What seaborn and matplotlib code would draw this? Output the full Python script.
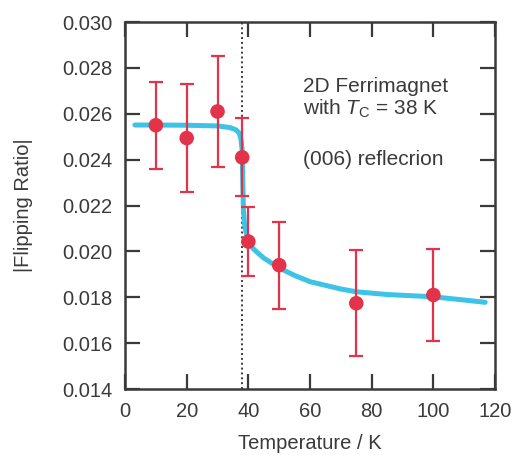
import numpy as np
import pandas as pd
import seaborn as sns
import matplotlib
matplotlib.use('Agg')
import matplotlib.pyplot as plt

temp = [10, 20, 30, 38, 40, 50, 75, 100]
ratio = [0.02550, 0.02494, 0.02610, 0.02410, 0.02043, 0.01940, 0.01774, 0.01810]
err = [0.00190, 0.00235, 0.00240, 0.00170, 0.00150, 0.00190, 0.00230, 0.00200]

# fitted curve
curve_t = [3.2, 10, 20, 30, 34, 36, 37, 37.6, 38.0, 38.2, 38.4, 38.7, 39.2, 40.5,
           42, 45, 50, 55, 60, 70, 75, 85, 100, 110, 116.8]
curve_r = [0.02551, 0.02551, 0.02550, 0.02547, 0.02540, 0.02530, 0.02516, 0.02490,
           0.02440, 0.02300, 0.02180, 0.02124, 0.02085, 0.02028,
           0.02006, 0.01971, 0.01928, 0.01895, 0.01868, 0.01836, 0.01824, 0.01812,
           0.01802, 0.01788, 0.01778]

tc = 38

sns.set_theme(style='ticks')
plt.rcParams['font.family'] = ['Liberation Sans', 'DejaVu Sans']
plt.rcParams['mathtext.fontset'] = 'custom'
plt.rcParams['mathtext.it'] = 'Liberation Sans:italic'
plt.rcParams['mathtext.rm'] = 'Liberation Sans'

dark = '#3a3a3a'
red = '#e3334b'
cyan = '#3cc3e6'
fs = 14.5

fig = plt.figure(figsize=(5.13, 4.55), dpi=100)
ax = fig.add_axes([0.2437, 0.145, 0.7213, 0.8066])

ax.axvline(tc, color=dark, ls=(0, (1, 1.5)), lw=1.4, zorder=1)

df_curve = pd.DataFrame({'T': curve_t, 'R': curve_r})
sns.lineplot(data=df_curve, x='T', y='R', color=cyan, lw=3.6, ax=ax, sort=False, zorder=2)

ax.errorbar(temp, ratio, yerr=err, fmt='none', ecolor=red, elinewidth=1.6,
            capsize=5, capthick=1.6, zorder=3)
df_pts = pd.DataFrame({'T': temp, 'R': ratio})
sns.scatterplot(data=df_pts, x='T', y='R', color=red, s=110, edgecolor='none', ax=ax, zorder=4)

ax.set_xlim(0, 120)
ax.set_ylim(0.014, 0.030)
ax.set_xticks(np.arange(0, 121, 20))
ax.set_yticks(np.arange(0.014, 0.0301, 0.002))
ax.set_yticklabels([f'{v:.3f}' for v in np.arange(0.014, 0.0301, 0.002)])

ax.tick_params(direction='in', length=11, width=1.6, color=dark, labelcolor=dark,
               labelsize=fs, top=True, right=True)
ax.tick_params(axis='y', pad=9)
ax.tick_params(axis='x', pad=9)
for s in ax.spines.values():
    s.set_color(dark)
    s.set_linewidth(1.8)

ax.set_xlabel('Temperature / K', fontsize=fs, color=dark, labelpad=10)
ax.set_ylabel('|Flipping Ratio|', fontsize=fs, color=dark, labelpad=21)

tfs = 15
ax.text(0.480, 0.810, '2D Ferrimagnet', transform=ax.transAxes, fontsize=tfs,
        color=dark, va='baseline', ha='left')
ax.text(0.480, 0.747, r'with $T_{\mathrm{C}}$ = 38 K', transform=ax.transAxes, fontsize=tfs,
        color=dark, va='baseline', ha='left')
ax.text(0.480, 0.610, '(006) reflecrion', transform=ax.transAxes, fontsize=tfs,
        color=dark, va='baseline', ha='left')

fig.savefig('out.png', dpi=100)
